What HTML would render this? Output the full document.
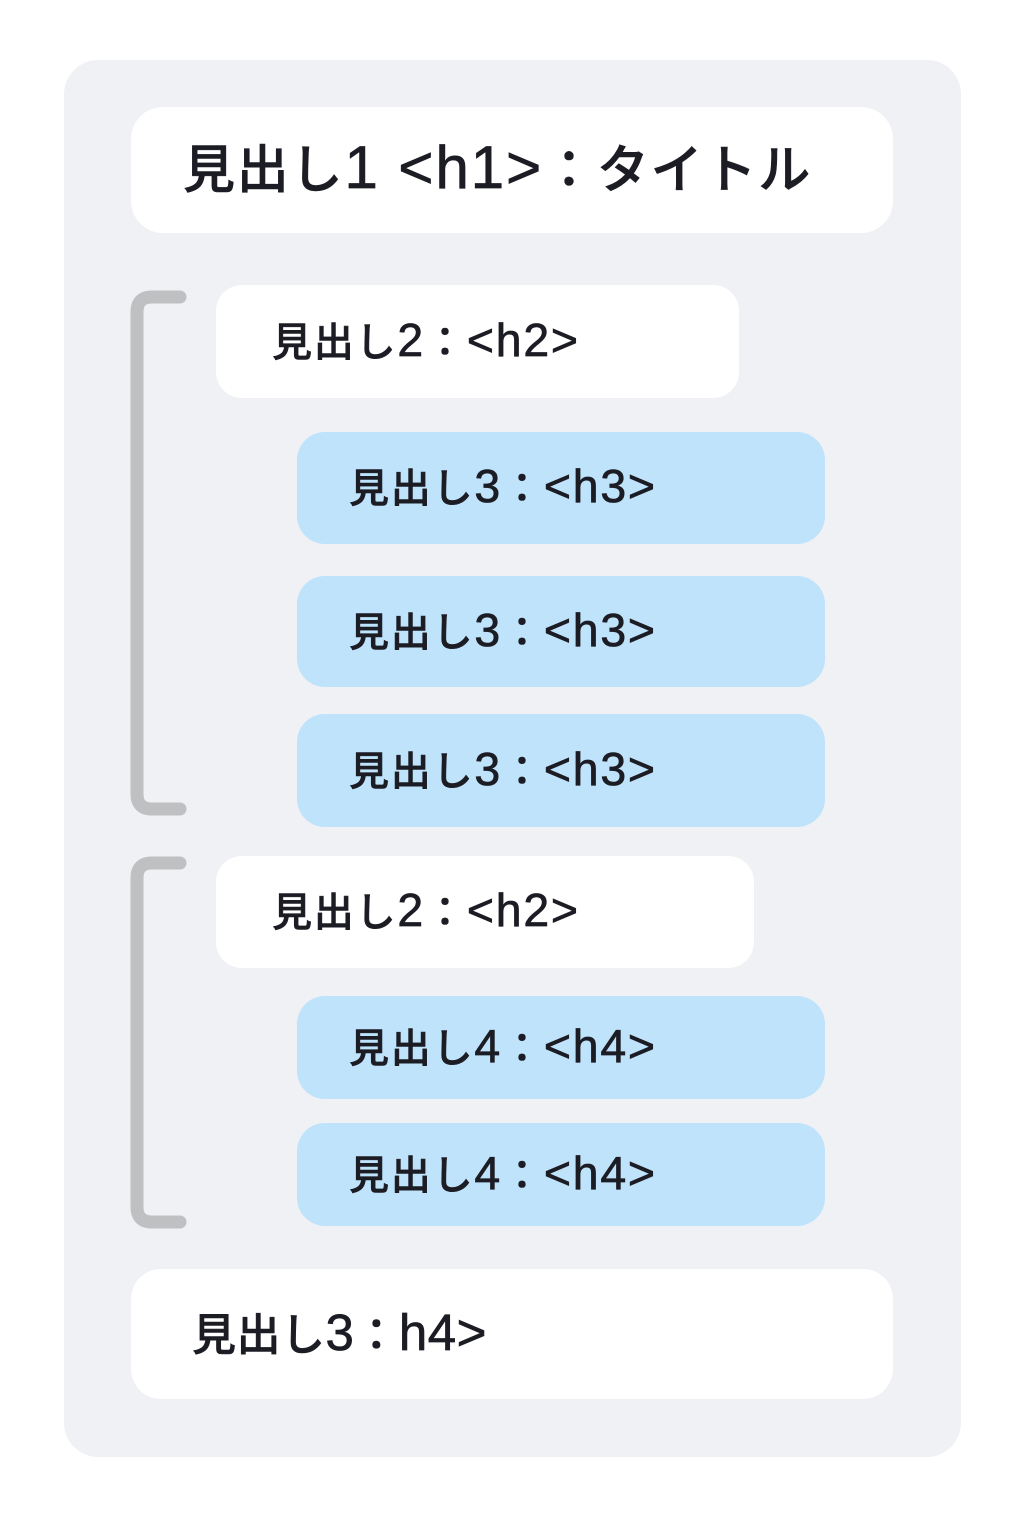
<!DOCTYPE html>
<html><head><meta charset="utf-8"><style>
html,body{margin:0;padding:0;background:#ffffff;}
body{width:1024px;height:1536px;position:relative;overflow:hidden;font-family:"Liberation Sans","Noto Sans CJK JP",sans-serif;color:#1c1c24;}
.panel{position:absolute;left:64px;top:60px;width:897px;height:1397px;border-radius:34px;background:#f0f1f5;}
.box{position:absolute;box-sizing:border-box;white-space:nowrap;font-weight:500;-webkit-text-stroke:0.6px #1c1c24;padding-top:3px;}
.w{background:#ffffff;}
.b{background:#bee3fb;}
.l{font-size:1.16em;line-height:1;-webkit-text-stroke:0.7px #1c1c24;}
svg{position:absolute;left:0;top:0;}
</style></head><body>
<div class="panel"></div>
<svg width="1024" height="1536" viewBox="0 0 1024 1536">
  <path d="M180 297 H152 Q137 297 137 312 V794 Q137 809 152 809 H180" fill="none" stroke="#bfc0c1" stroke-width="13" stroke-linecap="round"/>
  <path d="M180 863 H152 Q137 863 137 878 V1207 Q137 1222 152 1222 H180" fill="none" stroke="#bfc0c1" stroke-width="13" stroke-linecap="round"/>
</svg>

<div class="box w" style="left:131px;top:107px;width:762px;height:126px;border-radius:32px;padding-left:52px;line-height:123px;font-size:52px;letter-spacing:1.8px;">見出し<span class="l">1 &lt;h1&gt;</span>：タイトル</div>

<div class="box w" style="left:216px;top:285px;width:523px;height:113px;border-radius:26px;padding-left:56px;line-height:110px;font-size:40px;letter-spacing:1.8px;">見出し<span class="l">2</span>：<span class="l">&lt;h2&gt;</span></div>

<div class="box b" style="left:297px;top:432px;width:528px;height:112px;border-radius:28px;padding-left:52px;line-height:109px;font-size:40px;letter-spacing:1.8px;">見出し<span class="l">3</span>：<span class="l">&lt;h3&gt;</span></div>
<div class="box b" style="left:297px;top:576px;width:528px;height:111px;border-radius:28px;padding-left:52px;line-height:108px;font-size:40px;letter-spacing:1.8px;">見出し<span class="l">3</span>：<span class="l">&lt;h3&gt;</span></div>
<div class="box b" style="left:297px;top:714px;width:528px;height:113px;border-radius:28px;padding-left:52px;line-height:110px;font-size:40px;letter-spacing:1.8px;">見出し<span class="l">3</span>：<span class="l">&lt;h3&gt;</span></div>

<div class="box w" style="left:216px;top:856px;width:538px;height:112px;border-radius:26px;padding-left:56px;line-height:109px;font-size:40px;letter-spacing:1.8px;">見出し<span class="l">2</span>：<span class="l">&lt;h2&gt;</span></div>

<div class="box b" style="left:297px;top:996px;width:528px;height:103px;border-radius:28px;padding-left:52px;line-height:100px;font-size:40px;letter-spacing:1.8px;">見出し<span class="l">4</span>：<span class="l">&lt;h4&gt;</span></div>
<div class="box b" style="left:297px;top:1123px;width:528px;height:103px;border-radius:28px;padding-left:52px;line-height:100px;font-size:40px;letter-spacing:1.8px;">見出し<span class="l">4</span>：<span class="l">&lt;h4&gt;</span></div>

<div class="box w" style="left:131px;top:1269px;width:762px;height:130px;border-radius:30px;padding-left:61px;line-height:127px;font-size:44px;letter-spacing:0.5px;">見出し<span class="l">3</span>：<span class="l">h4&gt;</span></div>
</body></html>
